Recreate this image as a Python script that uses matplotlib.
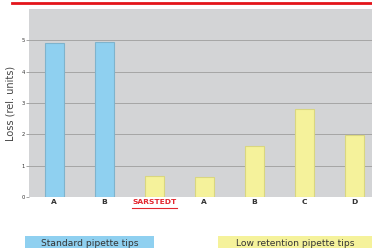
import matplotlib.pyplot as plt
from matplotlib.patches import Rectangle
from matplotlib.transforms import blended_transform_factory

# Loss of sample per pipette tip type
categories = ['A', 'B', 'SARSTEDT', 'A', 'B', 'C', 'D']
loss = [4.93, 4.95, 0.68, 0.65, 1.64, 2.82, 1.97]
groups = ['standard', 'standard', 'low', 'low', 'low', 'low', 'low']
yticks = [0, 1, 2, 3, 4, 5]

blue = '#8fd0f0'
yellow = '#f5f29b'
colors = [blue if g == 'standard' else yellow for g in groups]
edges = ['#7fb3cc' if g == 'standard' else '#d9d680' for g in groups]

fig = plt.figure(figsize=(3.72, 2.48), dpi=100)
ax = fig.add_axes([0.078, 0.2056, 0.922, 0.7581])
ax.set_facecolor('#d3d4d6')

x = list(range(len(categories)))
ax.bar(x, loss, width=0.38, color=colors, edgecolor=edges, linewidth=0.8, zorder=3)

ax.set_xlim(-0.5, 6.35)
ax.set_ylim(0, 6)
ax.set_yticks(yticks)
ax.set_yticklabels([str(t) for t in yticks], fontsize=3.8, color='#333333')
ax.yaxis.grid(True, color='#a5a5a5', linewidth=0.7, zorder=1)
ax.tick_params(axis='y', length=2, width=0.7, color='#a5a5a5', pad=1)

ax.set_xticks(x)
ax.set_xticklabels(categories, fontsize=5.4, fontweight='bold', color='#333333')
ax.tick_params(axis='x', length=0, pad=1.5)
ax.get_xticklabels()[2].set_color('#e3262e')

for s in ax.spines.values():
    s.set_visible(False)

# underline for SARSTEDT
tr = blended_transform_factory(ax.transData, ax.transAxes)
ax.plot([1.55, 2.45], [-0.058, -0.058], transform=tr, color='#e3262e',
        linewidth=0.8, clip_on=False)

ax.set_ylabel('Loss (rel. units)', fontsize=7, color='#444444', labelpad=4)

# red rule on top
fig.add_artist(plt.Line2D([12 / 372, 1.0], [1 - 3 / 248, 1 - 3 / 248],
                          color='#e3141b', linewidth=2.0))

# group boxes
fig.patches.append(Rectangle((25 / 372, 0), 129 / 372, 12 / 248, transform=fig.transFigure,
                             facecolor=blue, edgecolor='none'))
fig.text(89.5 / 372, 4 / 248, 'Standard pipette tips', fontsize=6.6,
         ha='center', va='center', color='#333333')
fig.patches.append(Rectangle((218 / 372, 0), 154 / 372, 12 / 248, transform=fig.transFigure,
                             facecolor=yellow, edgecolor='none'))
fig.text(295 / 372, 4 / 248, 'Low retention pipette tips', fontsize=6.6,
         ha='center', va='center', color='#333333')

fig.savefig('out.png', dpi=100)
